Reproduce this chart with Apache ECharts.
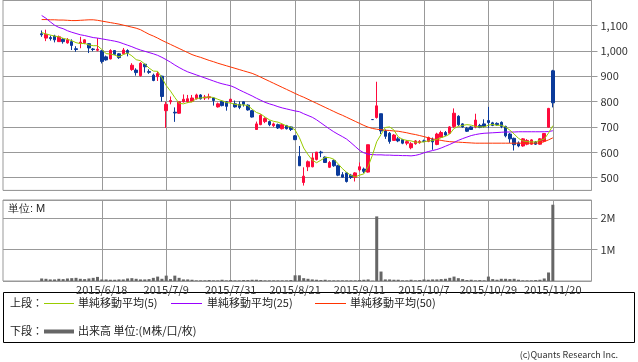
<!DOCTYPE html>
<html><head><meta charset="utf-8">
<script src="https://cdn.jsdelivr.net/npm/echarts@6/dist/echarts.min.js"></script>
<style>html,body{margin:0;padding:0;background:#fff}#c{width:638px;height:362px}</style>
</head><body><div id="c"></div>
<script>
const padBefore = ['2015/5/18','2015/5/19','2015/5/20','2015/5/21','2015/5/22','2015/5/25','2015/5/26','2015/5/27','2015/5/28'];
const dates = [
'2015/5/29','2015/6/1','2015/6/2','2015/6/3','2015/6/4','2015/6/5','2015/6/8','2015/6/9','2015/6/10','2015/6/11',
'2015/6/12','2015/6/15','2015/6/16','2015/6/17','2015/6/18','2015/6/19','2015/6/22','2015/6/23','2015/6/24','2015/6/25',
'2015/6/26','2015/6/29','2015/6/30','2015/7/1','2015/7/2','2015/7/3','2015/7/6','2015/7/7','2015/7/8','2015/7/9',
'2015/7/10','2015/7/13','2015/7/14','2015/7/15','2015/7/16','2015/7/17','2015/7/21','2015/7/22','2015/7/23','2015/7/24',
'2015/7/27','2015/7/28','2015/7/29','2015/7/30','2015/7/31','2015/8/3','2015/8/4','2015/8/5','2015/8/6','2015/8/7',
'2015/8/10','2015/8/11','2015/8/12','2015/8/13','2015/8/14','2015/8/17','2015/8/18','2015/8/19','2015/8/20','2015/8/21',
'2015/8/24','2015/8/25','2015/8/26','2015/8/27','2015/8/28','2015/8/31','2015/9/1','2015/9/2','2015/9/3','2015/9/4',
'2015/9/7','2015/9/8','2015/9/9','2015/9/10','2015/9/11','2015/9/14','2015/9/15','2015/9/16','2015/9/17','2015/9/18',
'2015/9/24','2015/9/25','2015/9/28','2015/9/29','2015/9/30','2015/10/1','2015/10/2','2015/10/5','2015/10/6','2015/10/7',
'2015/10/8','2015/10/9','2015/10/13','2015/10/14','2015/10/15','2015/10/16','2015/10/19','2015/10/20','2015/10/21','2015/10/22',
'2015/10/23','2015/10/26','2015/10/27','2015/10/28','2015/10/29','2015/10/30','2015/11/2','2015/11/4','2015/11/5','2015/11/6',
'2015/11/9','2015/11/10','2015/11/11','2015/11/12','2015/11/13','2015/11/16','2015/11/17','2015/11/18','2015/11/19','2015/11/20'];
const padAfter = ['2015/11/24','2015/11/25','2015/11/26','2015/11/27','2015/11/30','2015/12/1','2015/12/2','2015/12/3','2015/12/4'];
const gridDates = ['2015/6/18','2015/7/9','2015/7/31','2015/8/21','2015/9/11','2015/10/7','2015/10/29','2015/11/20'];

const opens = [1067,1050,1052,1058,1036,1045,1031,1036,1008,1030, 1031,1028,1007,1002,1000,976,968,1001,988,988,
1001,926,924,902,947,918,904,898,900,764, 799,758,754,799,799,801,811,826,814,815,
814,779,801,799,799,791,789,799,786,764, 690,709,721,721,705,709,693,705,700,665,
584,481,543,543,572,601,581,541,568,547, 512,519,510,501,531,534,522,729,737,752,
684,675,647,653,650,636,618,634,638,645, 643,650,631,659,678,675,702,742,712,695,
700,700,706,712,725,716,714,718,702,672, 655,637,625,632,632,640,632,644,699,921];
const closes = [1063,1065,1048,1043,1055,1036,1043,1021,1005,1034, 1043,1011,1005,1006,958,964,1001,986,973,1003,
993,943,914,951,937,915,883,910,820,789, 804,755,799,809,811,814,826,811,818,819,
804,791,784,781,809,779,777,789,767,739, 712,746,733,709,712,696,709,693,690,650,
547,506,563,578,601,598,560,560,547,510, 502,485,501,519,543,525,630,729,783,684,
663,643,668,645,636,642,634,645,643,643, 658,641,672,678,668,700,754,709,700,683,
690,727,698,702,717,706,709,702,665,653, 630,625,653,647,649,632,653,674,773,795];
const highs = [1080,1083,1060,1063,1060,1050,1050,1045,1018,1055, 1045,1030,1011,1050,1003,981,1006,1003,991,1011,
1006,951,931,955,949,927,910,918,902,799, 820,777,801,828,826,826,831,829,826,831,
816,796,803,801,811,804,801,801,789,767, 721,750,738,725,717,713,713,708,702,668,
625,541,568,597,601,606,584,566,572,551, 522,522,515,522,560,540,630,729,878,752,
690,680,672,660,653,648,640,648,648,650, 662,658,677,685,684,703,773,746,715,700,
703,752,712,730,779,720,718,722,705,676, 658,643,656,652,652,644,656,676,775,925];
const lows = [1055,1038,1040,1033,1036,1028,1028,1003,996,1010, 1026,991,998,998,950,961,966,983,968,986,
978,921,902,898,914,909,880,881,800,696, 789,720,752,796,794,798,808,808,806,808,
784,776,781,764,796,776,770,780,764,737, 688,707,715,703,700,692,690,690,684,648,
546,469,526,541,568,581,558,538,543,506, 501,481,495,485,525,518,520,729,733,672,
653,634,645,640,632,628,612,630,634,640, 640,610,628,656,665,672,696,704,697,680,
688,695,695,697,696,703,704,695,659,637, 607,620,622,628,630,629,630,640,697,777];
const volumes = [0.08,0.07,0.05,0.05,0.07,0.06,0.08,0.09,0.1,0.07, 0.06,0.08,0.1,0.13,0.05,0.05,0.04,0.04,0.05,0.05,
0.08,0.09,0.07,0.05,0.05,0.06,0.1,0.14,0.07,0.17, 0.06,0.17,0.1,0.05,0.05,0.04,0.02,0.02,0.02,0.03,
0.02,0.02,0.04,0.02,0.03,0.02,0.02,0.03,0.03,0.04, 0.04,0.03,0.02,0.02,0.02,0.02,0.02,0.02,0.03,0.18,
0.18,0.09,0.07,0.05,0.04,0.03,0.04,0.02,0.02,0.02, 0.02,0.02,0.02,0.02,0.03,0.04,0.05,0.01,2.05,0.3,
0.05,0.05,0.04,0.04,0.02,0.02,0.04,0.02,0.03,0.05, 0.04,0.05,0.05,0.06,0.07,0.1,0.14,0.09,0.06,0.03,
0.04,0.02,0.03,0.02,0.14,0.06,0.04,0.07,0.07,0.06, 0.07,0.04,0.02,0.02,0.02,0.03,0.04,0.08,0.27,2.42];
const ma5 = [1072,1066,1062,1058,1055,1049,1045,1040,1032,1028, 1029,1023,1020,1020,1005,989,987,983,976,985,
991,980,965,961,948,932,920,919,893,863, 841,816,793,791,796,798,812,814,816,818,
816,809,803,796,794,789,786,787,784,770, 757,751,739,728,722,719,712,704,700,688,
658,617,591,569,559,569,580,579,573,555, 536,521,509,503,510,515,544,589,642,670,
698,700,688,661,651,647,645,640,640,641, 645,646,651,658,663,672,694,702,706,709,
707,702,700,700,707,710,706,707,700,687, 672,655,645,642,641,641,647,652,676,705];
const ma25 = [1139,1128,1114,1101,1092,1087,1079,1073,1068,1063, 1060,1056,1052,1050,1047,1044,1041,1038,1034,1028,
1022,1016,1009,1003,998,993,988,982,974,965, 955,944,934,925,917,911,905,899,893,887,
881,875,870,866,862,855,846,838,830,822, 813,805,797,791,786,780,775,771,767,763,
760,752,745,738,728,716,704,692,681,671, 662,652,638,623,608,598,593,591,590,590,
589,589,588,588,587,587,586,588,592,598, 603,607,611,617,624,631,639,647,654,660,
666,670,673,675,676,677,678,679,680,680, 680,681,681,681,681,681,681,681,682,685];
const ma50 = [1123,1123,1122,1122,1121,1121,1120,1119,1119,1120, 1121,1122,1122,1120,1117,1114,1111,1108,1105,1101,
1097,1093,1089,1083,1074,1065,1058,1050,1041,1033, 1025,1017,1009,1001,993,985,979,974,968,962,
957,951,946,941,936,931,926,921,916,911, 904,896,888,880,872,864,856,848,840,832,
824,817,809,801,793,785,777,769,761,753, 746,738,730,722,714,706,699,694,691,689,
687,686,684,683,680,677,673,670,666,662, 657,653,650,647,644,642,641,640,639,638,
637,636,636,636,636,636,636,636,636,636, 636,636,636,636,636,636,637,642,649,657];

const allDates = padBefore.concat(dates, padAfter);
const pad = arr => padBefore.map(() => '-').concat(arr, padAfter.map(() => '-'));
const candleData = pad(dates.map((d, i) => [opens[i], closes[i], lows[i], highs[i]]));
const isGrid = (idx, val) => gridDates.indexOf(val) >= 0;

const FONT = '"Noto Sans CJK JP", "Noto Sans", sans-serif';
const GRIDC = '#999999';
const UP = '#ff0a3c', DOWN = '#0a3a9a';

const chart = echarts.init(document.getElementById('c'), null, {renderer: 'canvas'});
chart.setOption({
  animation: false,
  backgroundColor: '#fff',
  textStyle: {fontFamily: FONT},
  grid: [
    {left: 3, right: 46.5, top: -10.6, height: 201, show: true, borderColor: GRIDC, borderWidth: 1},
    {left: 3, right: 46.5, top: 200, height: 81, show: true, borderColor: GRIDC, borderWidth: 1}
  ],
  xAxis: [
    {type: 'category', gridIndex: 0, data: allDates, boundaryGap: false,
     axisLine: {show: false}, axisTick: {show: false}, axisLabel: {show: false},
     splitLine: {show: true, interval: isGrid, lineStyle: {color: GRIDC, width: 1}}},
    {type: 'category', gridIndex: 1, data: allDates, boundaryGap: false,
     axisLine: {show: false}, axisTick: {show: false},
     axisLabel: {show: true, interval: isGrid, color: '#333', fontSize: 11, margin: 3, fontFamily: FONT, hideOverlap: false},
     splitLine: {show: true, interval: isGrid, lineStyle: {color: GRIDC, width: 1}}}
  ],
  yAxis: [
    {type: 'value', gridIndex: 0, position: 'right', min: 450, max: 1200, splitNumber: 7, scale: true,
     axisLine: {show: false}, axisTick: {show: true, length: 6, lineStyle: {color: GRIDC}},
     axisLabel: {color: '#333', fontSize: 11, margin: 9, fontFamily: FONT, showMinLabel: false, showMaxLabel: false,
       formatter: v => v.toLocaleString('en-US')},
     splitLine: {show: true, lineStyle: {color: GRIDC, width: 1}}},
    {type: 'value', gridIndex: 1, position: 'right', min: 0, max: 2.57, interval: 1,
     axisLine: {show: false}, axisTick: {show: true, length: 6, lineStyle: {color: GRIDC}},
     axisLabel: {color: '#333', fontSize: 11, margin: 9, fontFamily: FONT, showMinLabel: false, showMaxLabel: false,
       formatter: v => (v === 0 ? '' : v + 'M')},
     splitLine: {show: true, lineStyle: {color: GRIDC, width: 1}}}
  ],
  series: [
    {type: 'candlestick', xAxisIndex: 0, yAxisIndex: 0, data: candleData, barWidth: 3,
     itemStyle: {color: UP, color0: DOWN, borderColor: UP, borderColor0: DOWN, borderColorDoji: DOWN, borderWidth: 1}},
    {type: 'line', xAxisIndex: 0, yAxisIndex: 0, data: pad(ma50), showSymbol: false, symbol: 'none',
     lineStyle: {color: '#ff3300', width: 1}, z: 3},
    {type: 'line', xAxisIndex: 0, yAxisIndex: 0, data: pad(ma25), showSymbol: false, symbol: 'none',
     lineStyle: {color: '#9900ff', width: 1}, z: 3},
    {type: 'line', xAxisIndex: 0, yAxisIndex: 0, data: pad(ma5), showSymbol: false, symbol: 'none',
     lineStyle: {color: '#99cc00', width: 1}, z: 3},
    {type: 'bar', xAxisIndex: 1, yAxisIndex: 1, data: pad(volumes), barWidth: 3,
     itemStyle: {color: '#666666'}}
  ],
  graphic: [
    {type: 'text', left: 8, top: 203, style: {text: '単位: M', fontSize: 11, fill: '#222', font: '11px ' + FONT}},
    {type: 'rect', shape: {x: 3.5, y: 292.5, width: 631, height: 50}, style: {fill: 'none', stroke: '#000', lineWidth: 1}},
    {type: 'text', x: 10, y: 303, style: {text: '上段：', font: '11px ' + FONT, fill: '#222', textVerticalAlign: 'middle'}},
    {type: 'line', shape: {x1: 44, y1: 303.5, x2: 74, y2: 303.5}, style: {stroke: '#99cc00', lineWidth: 1}},
    {type: 'text', x: 78, y: 303, style: {text: '単純移動平均(5)', font: '11px ' + FONT, fill: '#222', textVerticalAlign: 'middle'}},
    {type: 'line', shape: {x1: 171, y1: 303.5, x2: 202, y2: 303.5}, style: {stroke: '#9900ff', lineWidth: 1}},
    {type: 'text', x: 207, y: 303, style: {text: '単純移動平均(25)', font: '11px ' + FONT, fill: '#222', textVerticalAlign: 'middle'}},
    {type: 'line', shape: {x1: 315, y1: 303.5, x2: 346, y2: 303.5}, style: {stroke: '#ff3300', lineWidth: 1}},
    {type: 'text', x: 350, y: 303, style: {text: '単純移動平均(50)', font: '11px ' + FONT, fill: '#222', textVerticalAlign: 'middle'}},
    {type: 'text', x: 10, y: 331, style: {text: '下段：', font: '11px ' + FONT, fill: '#222', textVerticalAlign: 'middle'}},
    {type: 'line', shape: {x1: 44, y1: 331.5, x2: 74, y2: 331.5}, style: {stroke: '#666666', lineWidth: 4}},
    {type: 'text', x: 78, y: 331, style: {text: '出来高 単位:(M株/口/枚)', font: '11px ' + FONT, fill: '#222', textVerticalAlign: 'middle'}},
    {type: 'text', x: 618, y: 355, style: {text: '(c)Quants Research Inc.', font: '9px ' + FONT, fill: '#333', textAlign: 'right', textVerticalAlign: 'middle'}}
  ]
});
</script></body></html>
